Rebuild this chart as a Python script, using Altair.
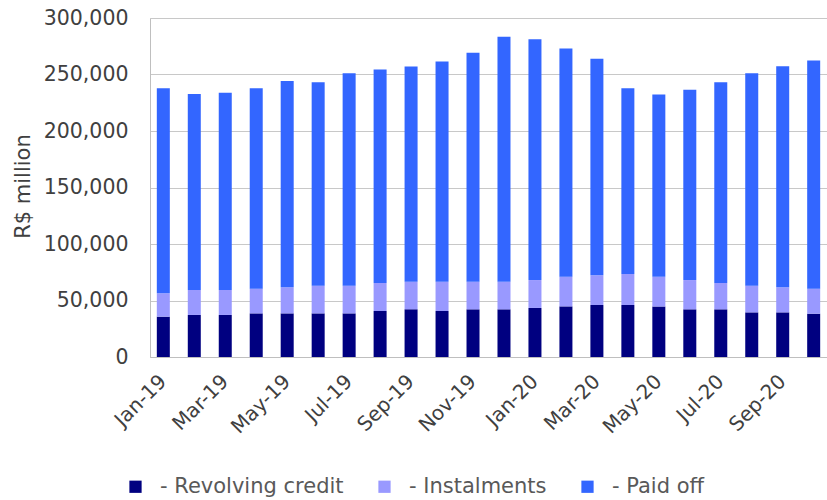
import altair as alt
import pandas as pd

# Monthly credit card balances, R$ million
months = [
    "Jan-19", "Feb-19", "Mar-19", "Apr-19", "May-19", "Jun-19", "Jul-19", "Aug-19",
    "Sep-19", "Oct-19", "Nov-19", "Dec-19", "Jan-20", "Feb-20", "Mar-20", "Apr-20",
    "May-20", "Jun-20", "Jul-20", "Aug-20", "Sep-20", "Oct-20",
]
revolving = [35700, 37200, 37200, 38600, 38600, 38600, 38600, 40700, 42200, 40700, 42200,
             42200, 43400, 44800, 46000, 46000, 44800, 42200, 42200, 39500, 39500, 38300]
instalments = [20700, 22100, 22100, 21900, 23100, 24500, 24500, 24800, 24400, 25900, 24400,
               24400, 24700, 26300, 26300, 27500, 26300, 25900, 23300, 23600, 22200, 22200]
paid_off = [181400, 173400, 174600, 177300, 182500, 180000, 187900, 189000, 190400, 194800,
            202700, 216900, 213000, 201800, 191700, 164300, 161300, 168500, 177600, 187900,
            195500, 202000]

series_names = ["- Revolving credit", "- Instalments", "- Paid off"]
series_colors = ["#000080", "#9999ff", "#3366ff"]
tick_months = months[::2]

rows = []
for i, m in enumerate(months):
    for k, vals in enumerate([revolving, instalments, paid_off]):
        rows.append({"month": m, "series": series_names[k], "value": vals[i], "rank": k})
df = pd.DataFrame(rows)

FONT = "DejaVu Sans"

chart = (
    alt.Chart(df)
    .mark_bar()
    .encode(
        x=alt.X(
            "month:N",
            sort=months,
            scale=alt.Scale(paddingInner=0.58, paddingOuter=0.22),
            axis=alt.Axis(
                values=tick_months,
                title=None,
                labelAngle=315,
                labelAlign="right",
                labelBaseline="middle",
                labelPadding=21,
                labelFont=FONT,
                labelFontSize=20,
                labelColor="#404040",
                ticks=False,
                domainColor="#bfbfbf",
                grid=False,
            ),
        ),
        y=alt.Y(
            "value:Q",
            stack="zero",
            scale=alt.Scale(domain=[0, 300000], nice=False),
            axis=alt.Axis(
                values=[0, 50000, 100000, 150000, 200000, 250000, 300000],
                format=",.0f",
                title="R$ million",
                titleFont=FONT,
                titleFontSize=21,
                titleFontWeight="normal",
                titleColor="#404040",
                titleAngle=270,
                titleX=-127,
                titleY=168,
                titleAlign="center",
                titleBaseline="middle",
                labelFont=FONT,
                labelFontSize=20.5,
                labelColor="#404040",
                labelPadding=22,
                ticks=False,
                domainColor="#bfbfbf",
                gridColor="#c8c8c8",
            ),
        ),
        color=alt.Color(
            "series:N",
            scale=alt.Scale(domain=series_names, range=series_colors),
            legend=alt.Legend(
                title=None,
                orient="none",
                direction="horizontal",
                legendX=-25,
                legendY=458,
                symbolType="square",
                symbolSize=150,
                symbolStrokeWidth=0,
                symbolOpacity=1,
                labelFont=FONT,
                labelFontSize=21,
                labelColor="#595959",
                labelLimit=400,
                labelOffset=14,
                columnPadding=30,
                padding=0,
            ),
        ),
        order=alt.Order("rank:Q", sort="ascending"),
    )
    .properties(
        width=677,
        height=339,
        autosize=alt.AutoSizeParams(type="none"),
        padding={"left": 150, "top": 18, "right": 0, "bottom": 143},
    )
    .configure_view(stroke=None)
    .configure(background="white")
)

chart.save("out.html", embed_options={"renderer": "svg", "actions": False})
